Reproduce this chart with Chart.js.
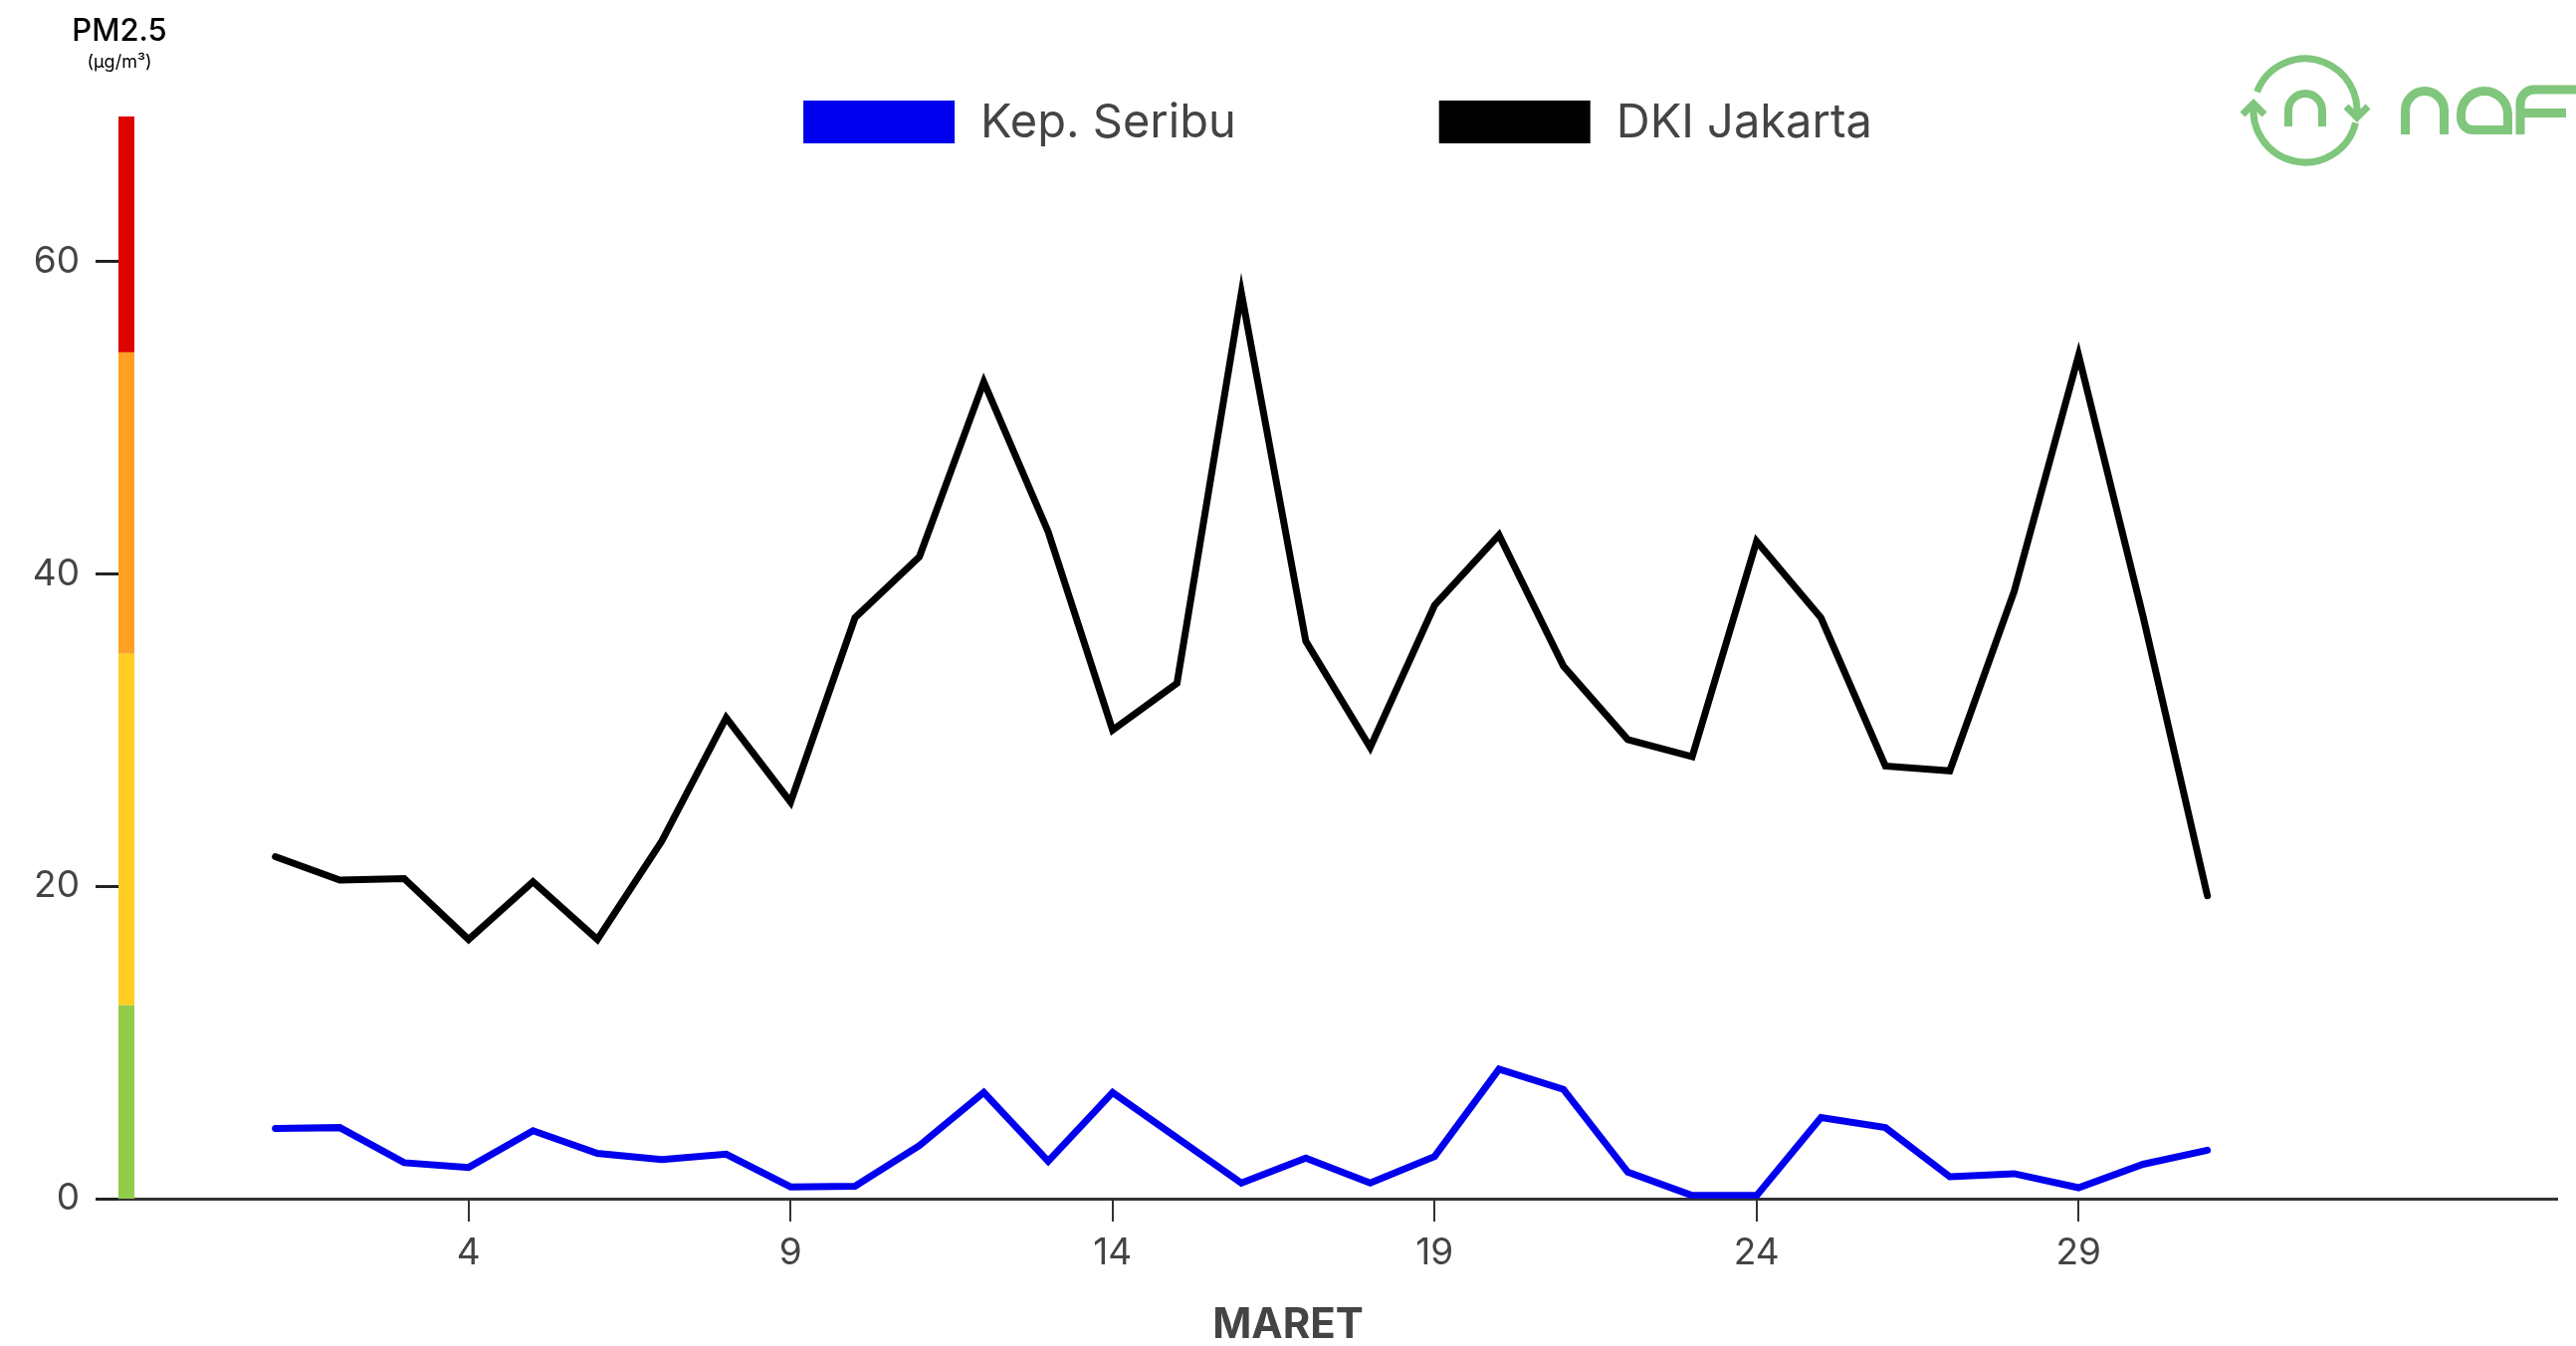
<!DOCTYPE html>
<html>
<head>
<meta charset="utf-8">
<title>PM2.5 Maret</title>
<script src="https://cdn.jsdelivr.net/npm/chart.js@4.4.1/dist/chart.umd.min.js"></script>
<style>
  html, body { margin: 0; padding: 0; background: #fff; }
  #wrap { width: 2588px; height: 1352px; position: relative; }
</style>
</head>
<body>
<div id="wrap"><canvas id="chart"></canvas></div>
<script>
"use strict";

// data (days of March, PM2.5 in µg/m3)
const days = [1, 2, 3, 4, 5, 6, 7, 8, 9, 10, 11, 12, 13, 14, 15, 16, 17, 18, 19, 20, 21, 22, 23, 24, 25, 26, 27, 28, 29, 30, 31];
const seribu = [4.5, 4.55, 2.3, 2.0, 4.35, 2.9, 2.5, 2.85, 0.75, 0.8, 3.4, 6.8, 2.4, 6.8, 3.9, 1.0, 2.6, 1.0, 2.7, 8.3, 7.0, 1.7, 0.2, 0.2, 5.2, 4.55, 1.4, 1.6, 0.7, 2.2, 3.1];
const jakarta = [21.9, 20.4, 20.5, 16.6, 20.3, 16.6, 22.9, 30.8, 25.4, 37.2, 41.1, 52.3, 42.7, 30.0, 33.0, 58.0, 35.7, 28.9, 38.0, 42.5, 34.1, 29.4, 28.3, 42.1, 37.2, 27.7, 27.4, 38.9, 54.0, 37.3, 19.4];
const seriesNames = ["Kep. Seribu", "DKI Jakarta"];
const xTicks = [4, 9, 14, 19, 24, 29];
const yTicks = [0, 20, 40, 60];
// air quality bands along the y axis
const bandLimits = [0, 12.4, 34.9, 54.2, 69.3];
const bandColors = ["#92cc4a", "#ffce22", "#ffa022", "#dd0400"];

const textGrey = "#444444";
const fontName = "Inter, 'Noto Sans', sans-serif";

function toPoints(values) {
  return days.map((d, i) => ({ x: d, y: values[i] }));
}

// coloured quality bar drawn on the left edge of the plot
const bandBar = {
  id: "bandBar",
  beforeDatasetsDraw(chart) {
    const ctx = chart.ctx;
    const y = chart.scales.y;
    const left = chart.chartArea.left;
    ctx.save();
    for (let i = 0; i < bandColors.length; i++) {
      const top = y.getPixelForValue(bandLimits[i + 1]);
      const bottom = y.getPixelForValue(bandLimits[i]);
      ctx.fillStyle = bandColors[i];
      ctx.fillRect(left, top, 16, bottom - top);
    }
    ctx.restore();
  }
};

function drawLogo(ctx) {
  ctx.save();
  ctx.strokeStyle = "#80c67c";
  ctx.lineCap = "butt";
  ctx.lineJoin = "miter";
  // ring with two arrows
  const cx = 2316, cy = 111, r = 52;
  ctx.lineWidth = 7;
  ctx.beginPath();
  ctx.arc(cx, cy, r, Math.PI + 0.37, 2 * Math.PI + 0.13);
  ctx.stroke();
  ctx.beginPath();
  ctx.moveTo(2357, 107); ctx.lineTo(2368, 118); ctx.lineTo(2379, 107);
  ctx.stroke();
  ctx.beginPath();
  ctx.arc(cx, cy, r, 0.24, Math.PI + 0.15);
  ctx.stroke();
  ctx.beginPath();
  ctx.moveTo(2253, 115); ctx.lineTo(2264, 104); ctx.lineTo(2275, 115);
  ctx.stroke();
  // inner n
  ctx.lineWidth = 8;
  ctx.beginPath();
  ctx.moveTo(2299, 127); ctx.lineTo(2299, 111);
  ctx.arc(2316, 111, 17, Math.PI, 2 * Math.PI);
  ctx.lineTo(2333, 127);
  ctx.stroke();
  // word "naf"
  ctx.lineWidth = 9;
  ctx.beginPath();
  ctx.moveTo(2416.5, 135); ctx.lineTo(2416.5, 111);
  ctx.arc(2436, 111, 19.5, Math.PI, 2 * Math.PI);
  ctx.lineTo(2455.5, 135);
  ctx.stroke();
  ctx.beginPath();
  ctx.moveTo(2519.5, 135); ctx.lineTo(2519.5, 115);
  ctx.arc(2496, 115, 23.5, 0, Math.PI, true);
  ctx.lineTo(2472.5, 118.5);
  ctx.arc(2484.5, 118.5, 12, Math.PI, Math.PI / 2, true);
  ctx.lineTo(2519.5, 130.5);
  ctx.stroke();
  ctx.beginPath();
  ctx.moveTo(2532, 135); ctx.lineTo(2532, 104);
  ctx.arc(2546, 104, 14, Math.PI, 1.5 * Math.PI);
  ctx.lineTo(2588, 90);
  ctx.stroke();
  ctx.beginPath();
  ctx.moveTo(2532, 113.5); ctx.lineTo(2578, 113.5);
  ctx.stroke();
  ctx.restore();
}

// titles, legend and logo
const overlay = {
  id: "overlay",
  afterDraw(chart) {
    const ctx = chart.ctx;
    const area = chart.chartArea;
    ctx.save();
    ctx.fillStyle = "#000";
    ctx.textAlign = "center";
    ctx.textBaseline = "middle";
    ctx.font = "500 31px " + fontName;
    ctx.fillText("PM2.5", 120, 32);
    ctx.font = "18px " + fontName;
    ctx.fillText("(µg/m³)", 120, 63);

    ctx.fillStyle = textGrey;
    ctx.font = "bold 42px " + fontName;
    ctx.fillText("MARET", chart.width / 2, 1331);

    // legend centred over the plot area
    ctx.font = "47px " + fontName;
    ctx.textAlign = "left";
    const boxW = 152, boxH = 43, gap = 26, itemGap = 204;
    const items = chart.data.datasets.map(ds => ({
      text: ds.label, color: ds.borderColor,
      w: boxW + gap + ctx.measureText(ds.label).width
    }));
    let total = items.reduce((s, it) => s + it.w, 0) + itemGap * (items.length - 1);
    let x = (area.left + area.right) / 2 - total / 2;
    items.forEach(it => {
      ctx.fillStyle = it.color;
      ctx.fillRect(x, 101, boxW, boxH);
      ctx.fillStyle = textGrey;
      ctx.fillText(it.text, x + boxW + gap, 124);
      x += it.w + itemGap;
    });
    ctx.restore();
    drawLogo(ctx);
  }
};

const data = {
  datasets: [
    {
      label: seriesNames[0],
      data: toPoints(seribu),
      borderColor: "#0000ee",
      backgroundColor: "#0000ee",
      borderWidth: 7,
      borderCapStyle: "round",
      pointRadius: 0,
      tension: 0
    },
    {
      label: seriesNames[1],
      data: toPoints(jakarta),
      borderColor: "#000000",
      backgroundColor: "#000000",
      borderWidth: 7,
      borderCapStyle: "round",
      pointRadius: 0,
      tension: 0
    }
  ]
};

const config = {
  type: "line",
  data: data,
  options: {
    responsive: true,
    maintainAspectRatio: false,
    animation: false,
    layout: { padding: { left: 0, top: 117, right: 19, bottom: 0 } },
    plugins: {
      legend: { display: false },
      tooltip: { enabled: false }
    },
    scales: {
      x: {
        type: "linear",
        min: -1.437,
        max: 36.43,
        afterFit(scale) { scale.height = 148; },
        afterBuildTicks(scale) { scale.ticks = xTicks.map(v => ({ value: v })); },
        border: { display: true, color: "#333", width: 3 },
        grid: { drawOnChartArea: false, drawTicks: true, tickLength: 23, color: "#333", lineWidth: 2 },
        ticks: { color: textGrey, font: { family: fontName, size: 37 }, padding: 10, maxRotation: 0 }
      },
      y: {
        min: 0,
        max: 69.3,
        afterFit(scale) { scale.width = 119; },
        afterBuildTicks(scale) { scale.ticks = yTicks.map(v => ({ value: v })); },
        border: { display: false },
        grid: { drawOnChartArea: false, drawTicks: true, tickLength: 23, color: "#222", lineWidth: 3 },
        ticks: { color: textGrey, font: { family: fontName, size: 37 }, padding: 16 }
      }
    }
  },
  plugins: [bandBar, overlay]
};

const pmChart = new Chart(document.getElementById("chart"), config);
</script>
</body>
</html>
